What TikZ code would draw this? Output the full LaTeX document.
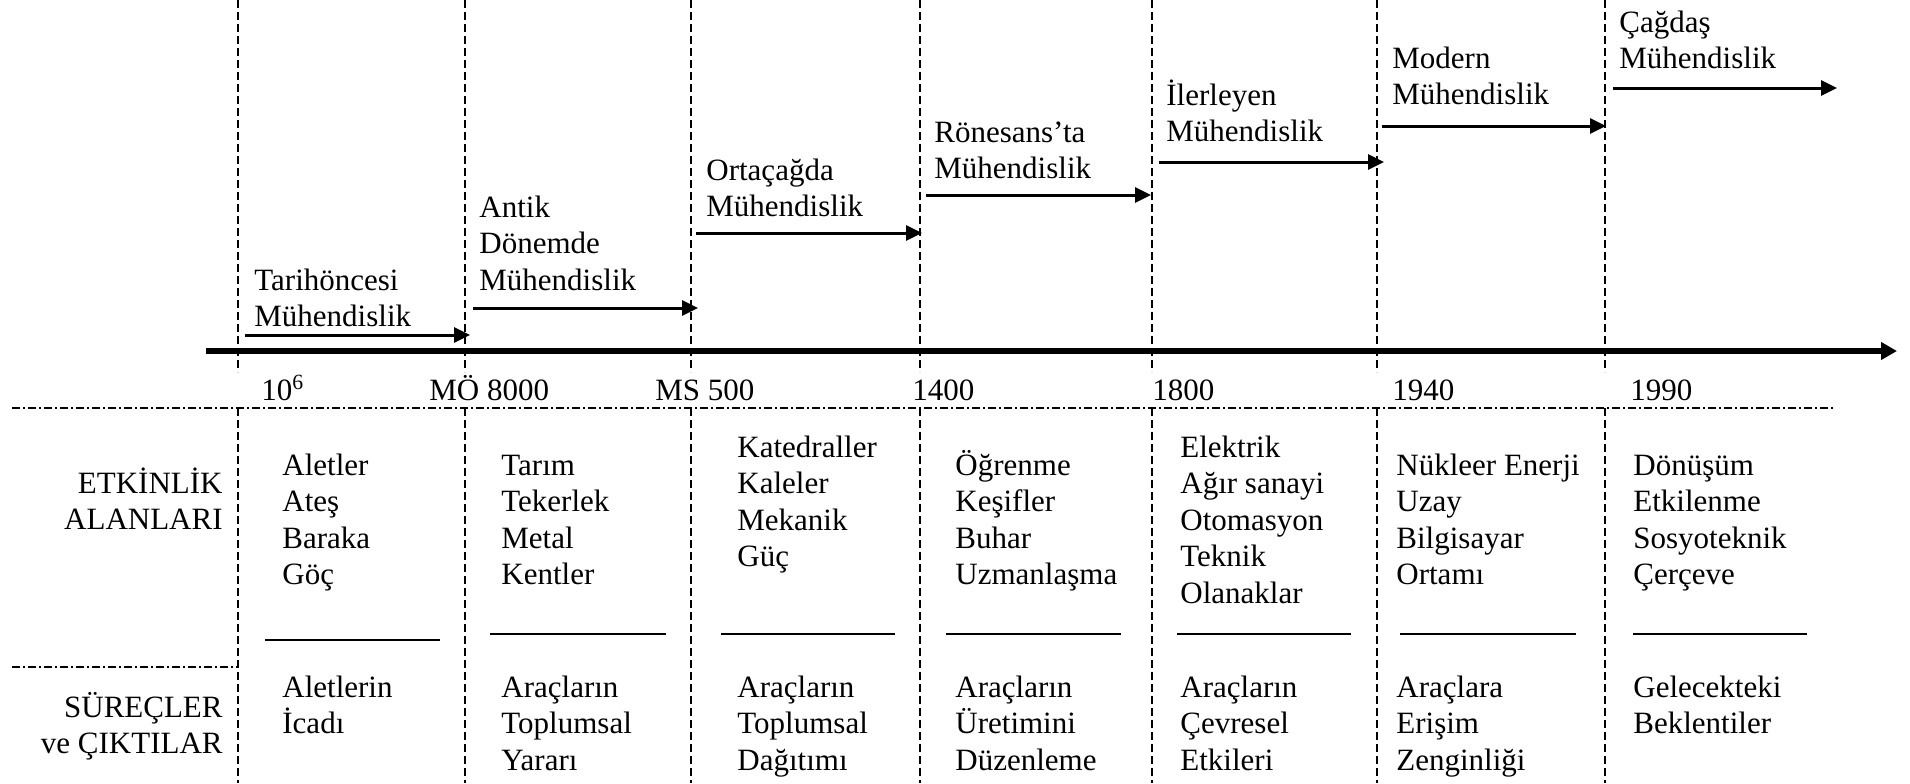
\documentclass[tikz,border=0pt]{standalone}
\usepackage{fontspec}
\setmainfont{Liberation Serif}
\usetikzlibrary{arrows.meta}
\newcommand{\mlines}[1]{\begin{tabular}[t]{@{}l@{}}#1\end{tabular}}
\newcommand{\mrlines}[1]{\begin{tabular}[t]{@{}r@{}}#1\end{tabular}}
\begin{document}
\begin{tikzpicture}[x=0.5pt,y=-0.5pt,
  txt/.style={anchor=base west,inner sep=0pt,font=\fontsize{15.5}{18.25}\selectfont},
  rtxt/.style={anchor=base east,inner sep=0pt,font=\fontsize{15.5}{18.25}\selectfont},
  era/.style={line width=1.5pt,-{Triangle[length=8pt,width=7.5pt]}},
  axis/.style={line width=2.8pt,-{Triangle[length=8pt,width=8.5pt]}},
  vline/.style={line width=0.8pt,dash pattern=on 4pt off 2pt},
  hline/.style={line width=0.9pt,dash pattern=on 4pt off 1.5pt on 1pt off 1.5pt},
  sep/.style={line width=1pt}]
\useasboundingbox (0,0) rectangle (1910,783);
\fill[white] (0,0) rectangle (1910,783);

% vertical dashed lines
\foreach \x [count=\i] in {238,465,691,920,1152,1377,1605}{
  \coordinate (vt\i) at (\x,0);
  \coordinate (vm\i) at (\x,372);
  \coordinate (vn\i) at (\x,408);
  \coordinate (vb\i) at (\x,783);
  \draw[vline] (vt\i) -- (vm\i);
  \draw[vline] (vn\i) -- (vb\i);
}

% horizontal dash-dot lines
\coordinate (h1a) at (12,408); \coordinate (h1b) at (1833,408);
\coordinate (h2a) at (12,667); \coordinate (h2b) at (238,667);
\draw[hline] (h1a) -- (h1b);
\draw[hline] (h2a) -- (h2b);

% main axis
\coordinate (ax0) at (206,351); \coordinate (ax1) at (1897,351);
\draw[axis] (ax0) -- (ax1);

% era labels
\node[txt] (tA) at (254,290) {\mlines{Tarihöncesi\\Mühendislik}};
\node[txt] (tB) at (479,217) {\mlines{Antik\\Dönemde\\Mühendislik}};
\node[txt] (tC) at (706,180) {\mlines{Ortaçağda\\Mühendislik}};
\node[txt] (tD) at (934,142) {\mlines{Rönesans’ta\\Mühendislik}};
\node[txt] (tE) at (1166,105) {\mlines{İlerleyen\\Mühendislik}};
\node[txt] (tF) at (1392,68) {\mlines{Modern\\Mühendislik}};
\node[txt] (tG) at (1619,32) {\mlines{Çağdaş\\Mühendislik}};

% era arrows
\coordinate (aA0) at (245,335);  \coordinate (aA1) at (470,335);
\coordinate (aB0) at (473,308);  \coordinate (aB1) at (698,308);
\coordinate (aC0) at (696,233);  \coordinate (aC1) at (922,233);
\coordinate (aD0) at (926,195);  \coordinate (aD1) at (1151,195);
\coordinate (aE0) at (1159,162); \coordinate (aE1) at (1384,162);
\coordinate (aF0) at (1382,126); \coordinate (aF1) at (1606,126);
\coordinate (aG0) at (1613,88);  \coordinate (aG1) at (1837,88);
\foreach \k in {A,B,C,D,E,F,G}{\draw[era] (a\k0) -- (a\k1);}

% dates
\node[txt] (d1) at (261,400) {10\textsuperscript{6}};
\node[txt] (d2) at (429,400) {MÖ 8000};
\node[txt] (d3) at (655,400) {MS 500};
\node[txt] (d4) at (912,400) {1400};
\node[txt] (d5) at (1152,400) {1800};
\node[txt] (d6) at (1392,400) {1940};
\node[txt] (d7) at (1630,400) {1990};

% row labels
\node[rtxt] (r1) at (223,493) {\mrlines{ETKİNLİK\\ALANLARI}};
\node[rtxt] (r2) at (223,717) {\mrlines{SÜREÇLER\\ve ÇIKTILAR}};

% activity areas
\node[txt] (u1) at (282,475) {\mlines{Aletler\\Ateş\\Baraka\\Göç}};
\node[txt] (u2) at (501,475) {\mlines{Tarım\\Tekerlek\\Metal\\Kentler}};
\node[txt] (u3) at (737,457) {\mlines{Katedraller\\Kaleler\\Mekanik\\Güç}};
\node[txt] (u4) at (955,475) {\mlines{Öğrenme\\Keşifler\\Buhar\\Uzmanlaşma}};
\node[txt] (u5) at (1180,457) {\mlines{Elektrik\\Ağır sanayi\\Otomasyon\\Teknik\\Olanaklar}};
\node[txt] (u6) at (1396,475) {\mlines{Nükleer Enerji\\Uzay\\Bilgisayar\\Ortamı}};
\node[txt] (u7) at (1633,475) {\mlines{Dönüşüm\\Etkilenme\\Sosyoteknik\\Çerçeve}};

% separators
\coordinate (s1a) at (265,640);  \coordinate (s1b) at (440,640);
\coordinate (s2a) at (490,634);  \coordinate (s2b) at (666,634);
\coordinate (s3a) at (721,634);  \coordinate (s3b) at (895,634);
\coordinate (s4a) at (946,634);  \coordinate (s4b) at (1121,634);
\coordinate (s5a) at (1177,634); \coordinate (s5b) at (1351,634);
\coordinate (s6a) at (1400,634); \coordinate (s6b) at (1576,634);
\coordinate (s7a) at (1633,634); \coordinate (s7b) at (1807,634);
\foreach \k in {1,...,7}{\draw[sep] (s\k a) -- (s\k b);}

% processes and outputs
\node[txt] (p1) at (282,697) {\mlines{Aletlerin\\İcadı}};
\node[txt] (p2) at (501,697) {\mlines{Araçların\\Toplumsal\\Yararı}};
\node[txt] (p3) at (737,697) {\mlines{Araçların\\Toplumsal\\Dağıtımı}};
\node[txt] (p4) at (955,697) {\mlines{Araçların\\Üretimini\\Düzenleme}};
\node[txt] (p5) at (1180,697) {\mlines{Araçların\\Çevresel\\Etkileri}};
\node[txt] (p6) at (1396,697) {\mlines{Araçlara\\Erişim\\Zenginliği}};
\node[txt] (p7) at (1633,697) {\mlines{Gelecekteki\\Beklentiler}};
\end{tikzpicture}
\end{document}
